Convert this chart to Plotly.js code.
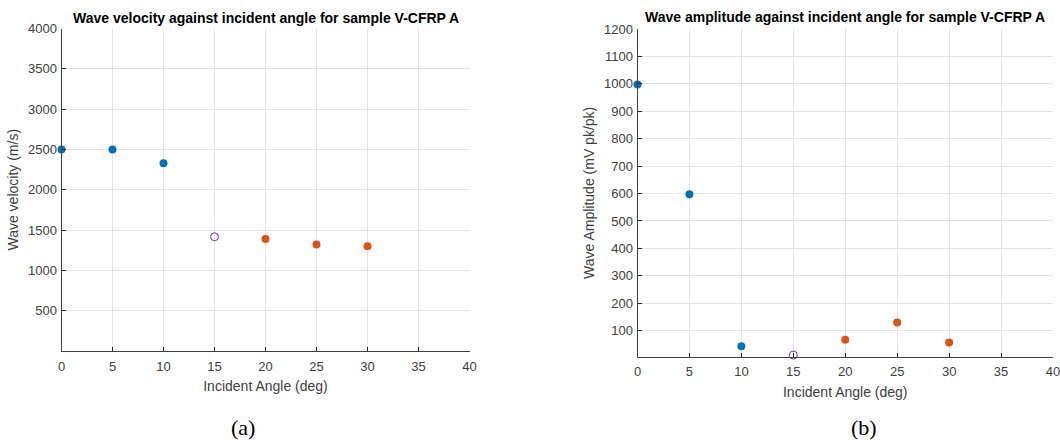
<!DOCTYPE html>
<html>
<head>
<meta charset="utf-8">
<script src="https://cdn.plot.ly/plotly-3.0.1.min.js"></script>
<style>html,body{margin:0;padding:0;background:#fff;}#chart{width:1060px;height:440px;}</style>
</head>
<body>
<div id="chart"></div>
<script>
// Incident angles (deg) per group
const anglesBlue = [0, 5, 10];
const anglesPurple = [15];
const anglesOrange = [20, 25, 30];

// (a) Wave velocity (m/s)
const velocityBlue = [2500, 2500, 2330];
const velocityPurple = [1417];
const velocityOrange = [1390, 1322, 1298];

// (b) Wave amplitude (mV pk/pk)
const amplitudeBlue = [998, 597, 43];
const amplitudePurple = [11];
const amplitudeOrange = [67, 130, 57];

const xTicks = [0, 5, 10, 15, 20, 25, 30, 35, 40];
const yTicksA = [500, 1000, 1500, 2000, 2500, 3000, 3500, 4000];
const yTicksB = [100, 200, 300, 400, 500, 600, 700, 800, 900, 1000, 1100, 1200];

const BLUE = '#0072BD', ORANGE = '#D95319', PURPLE = '#7E2F8E';
const FONT = 'Liberation Sans, Arial, sans-serif';

function filled(x, y, color, xa, ya) {
  return {x: x, y: y, xaxis: xa, yaxis: ya, type: 'scatter', mode: 'markers', cliponaxis: false,
    marker: {color: color, size: 8, line: {width: 0}}, showlegend: false, hoverinfo: 'x+y'};
}
function open(x, y, color, xa, ya) {
  return {x: x, y: y, xaxis: xa, yaxis: ya, type: 'scatter', mode: 'markers', cliponaxis: false,
    marker: {symbol: 'circle-open', color: color, size: 8, line: {width: 1, color: color}}, showlegend: false, hoverinfo: 'x+y'};
}

const data = [
  filled(anglesBlue, velocityBlue, BLUE, 'x', 'y'),
  open(anglesPurple, velocityPurple, PURPLE, 'x', 'y'),
  filled(anglesOrange, velocityOrange, ORANGE, 'x', 'y'),
  filled(anglesBlue, amplitudeBlue, BLUE, 'x2', 'y2'),
  open(anglesPurple, amplitudePurple, PURPLE, 'x2', 'y2'),
  filled(anglesOrange, amplitudeOrange, ORANGE, 'x2', 'y2')
];

function xAxis(domain, anchor) {
  return {domain: domain, anchor: anchor, range: [0, 40], tickvals: xTicks,
    ticktext: xTicks.map(String), ticks: 'inside', ticklen: 4, tickcolor: '#262626',
    showline: true, linecolor: '#404040', linewidth: 1, mirror: false,
    showgrid: true, gridcolor: '#e3e3e3', gridwidth: 1, zeroline: false,
    tickfont: {family: FONT, size: 13, color: '#404040'}, ticklabelstandoff: 3,
    ticklabeloverflow: 'allow',
    title: {text: 'Incident Angle (deg)', font: {family: FONT, size: 14, color: '#404040'}, standoff: 8},
    automargin: false, fixedrange: true};
}
function yAxis(domain, anchor, range, ticks, title) {
  return {domain: domain, anchor: anchor, range: range, tickvals: ticks,
    ticktext: ticks.map(String), ticks: 'inside', ticklen: 4, tickcolor: '#262626',
    showline: true, linecolor: '#404040', linewidth: 1, mirror: false,
    showgrid: true, gridcolor: '#e3e3e3', gridwidth: 1, zeroline: false,
    tickfont: {family: FONT, size: 13, color: '#404040'}, ticklabelstandoff: 1,
    ticklabeloverflow: 'allow',
    title: {text: title, font: {family: FONT, size: 14, color: '#404040'}, standoff: 6},
    automargin: false, fixedrange: true};
}

const layout = {
  width: 1060, height: 440,
  margin: {l: 0, r: 0, t: 0, b: 0},
  paper_bgcolor: '#ffffff', plot_bgcolor: '#ffffff',
  showlegend: false,
  xaxis: xAxis([61.5/1060, 469.5/1060], 'y'),
  yaxis: yAxis([(440-351)/440, (440-28.5)/440], 'x', [0, 4000], yTicksA, 'Wave velocity (m/s)'),
  xaxis2: xAxis([637.5/1060, 1053/1060], 'y2'),
  yaxis2: yAxis([(440-356.7)/440, (440-29)/440], 'x2', [5, 1200], yTicksB, 'Wave Amplitude (mV pk/pk)'),
  annotations: [
    {text: '<b>Wave velocity against incident angle for sample V-CFRP A</b>', xref: 'paper', yref: 'paper',
     x: 265.5/1060, y: (440-18)/440, xanchor: 'center', yanchor: 'middle', showarrow: false,
     font: {family: FONT, size: 14, color: '#000'}},
    {text: '<b>Wave amplitude against incident angle for sample V-CFRP A</b>', xref: 'paper', yref: 'paper',
     x: 845/1060, y: (440-17)/440, xanchor: 'center', yanchor: 'middle', showarrow: false,
     font: {family: FONT, size: 14, color: '#000'}},
    {text: '(a)', xref: 'paper', yref: 'paper', x: 243/1060, y: (440-427)/440,
     xanchor: 'center', yanchor: 'middle', showarrow: false,
     font: {family: 'Liberation Serif, Times New Roman, serif', size: 22, color: '#000'}},
    {text: '(b)', xref: 'paper', yref: 'paper', x: 864/1060, y: (440-427)/440,
     xanchor: 'center', yanchor: 'middle', showarrow: false,
     font: {family: 'Liberation Serif, Times New Roman, serif', size: 22, color: '#000'}}
  ]
};

Plotly.newPlot('chart', data, layout, {displayModeBar: false, staticPlot: true});
</script>
</body>
</html>
